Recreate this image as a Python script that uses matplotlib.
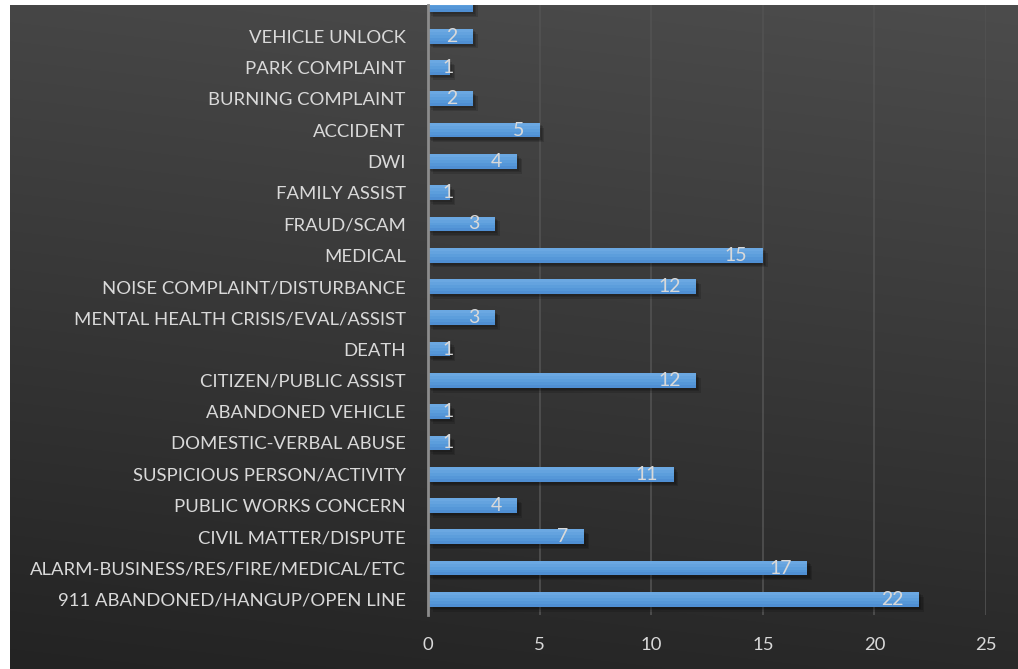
import matplotlib
matplotlib.use("Agg")
import matplotlib.pyplot as plt
import matplotlib.patheffects as pe
import numpy as np

categories = [
    "911 ABANDONED/HANGUP/OPEN LINE",
    "ALARM-BUSINESS/RES/FIRE/MEDICAL/ETC",
    "CIVIL MATTER/DISPUTE",
    "PUBLIC WORKS CONCERN",
    "SUSPICIOUS PERSON/ACTIVITY",
    "DOMESTIC-VERBAL ABUSE",
    "ABANDONED VEHICLE",
    "CITIZEN/PUBLIC ASSIST",
    "DEATH",
    "MENTAL HEALTH CRISIS/EVAL/ASSIST",
    "NOISE COMPLAINT/DISTURBANCE",
    "MEDICAL",
    "FRAUD/SCAM",
    "FAMILY ASSIST",
    "DWI",
    "ACCIDENT",
    "BURNING COMPLAINT",
    "PARK COMPLAINT",
    "VEHICLE UNLOCK",
    "",  # cut off at the top of the picture
]
values = [22, 17, 7, 4, 11, 1, 1, 12, 1, 3, 12, 15, 3, 1, 4, 5, 2, 1, 2, 2]
xticks = [0, 5, 10, 15, 20, 25]

W, H = 1018, 669
fig = plt.figure(figsize=(W / 100, H / 100), dpi=100, facecolor="white")

# dark gradient chart area
bg = fig.add_axes([10 / W, 0, 1 - 10 / W, 1 - 5 / H])
bg.set_axis_off()
yy, xx = np.mgrid[0:1:300j, 0:1:300j]
t = np.clip(0.85 * yy + 0.15 * xx, 0, 1)
top = np.array([0x4c, 0x4c, 0x4c]) / 255
bot = np.array([0x23, 0x23, 0x23]) / 255
img = bot[None, None, :] * (1 - t[..., None]) + top[None, None, :] * t[..., None]
bg.imshow(img, origin="lower", extent=[0, 1, 0, 1], aspect="auto", interpolation="bilinear")
bg.set_xlim(0, 1)
bg.set_ylim(0, 1)

ax = fig.add_axes([428 / W, 1 - 615 / H, (986 - 428) / W, (615 - 5) / H])
ax.set_facecolor("none")
y = np.arange(len(categories))
bh = 0.47
shadow = [pe.SimplePatchShadow(offset=(o, -o), shadow_rgbFace="black", alpha=0.14)
          for o in (3.5, 2.5, 1.5)] + [pe.Normal()]
ax.barh(y, values, height=bh, color="#4f8fd3", zorder=3, linewidth=0, path_effects=shadow)
# layered gradient: lighter towards the top
bands = ["#5597d8", "#5c9edc", "#64a3df", "#6ba8e2"]
nb = len(bands)
for i, c in enumerate(bands):
    frac = (i + 1) / (nb + 1)
    hh = bh * (1 - frac)
    ax.barh(y + bh / 2 - hh / 2, values, height=hh, color=c, zorder=3.2 + 0.1 * i, linewidth=0)

ax.set_xlim(0, 25)
ax.set_ylim(-0.5, 18.73)
ax.set_xticks(xticks)
ax.set_yticks(y)
ax.set_yticklabels(categories)
ax.grid(axis="x", color="#525252", linewidth=1.2, zorder=0)
ax.set_axisbelow(True)
for s in ["top", "right", "bottom"]:
    ax.spines[s].set_visible(False)
ax.spines["left"].set_color("#8c8c8c")
ax.spines["left"].set_linewidth(2)
ax.spines["left"].set_zorder(6)
ax.tick_params(axis="both", length=0, colors="#d9d9d9", labelsize=13.3)
ax.tick_params(axis="y", pad=16)
ax.tick_params(axis="x", pad=16)
for lab in ax.get_xticklabels() + ax.get_yticklabels():
    lab.set_fontfamily("Lato")

ylo, yhi = ax.get_ylim()
pad = 0.72
for yi, v in zip(y, values):
    if not (ylo < yi < yhi):
        continue
    w = 0.47 * len(str(v))
    xc = max(v - pad - w / 2, 0.67 + w / 2)
    ax.text(xc, yi, str(v), ha="center", va="center", color="#d9d9d9",
            fontsize=14, fontfamily="Lato", zorder=7)

fig.savefig("out.png", dpi=100, facecolor="white")
